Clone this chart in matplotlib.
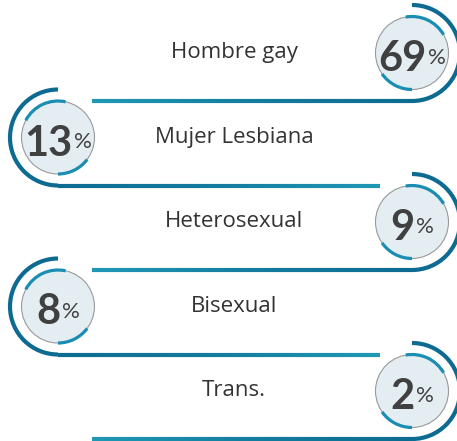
import numpy as np
import matplotlib.pyplot as plt
from matplotlib.patches import Arc, Circle
from matplotlib.collections import LineCollection
from matplotlib.colors import LinearSegmentedColormap

labels = ['Hombre gay', 'Mujer Lesbiana', 'Heterosexual', 'Bisexual', 'Trans.']
values = [69, 13, 9, 8, 2]
sides = ['right', 'left', 'right', 'left', 'right']

W, H = 457, 441
fig = plt.figure(figsize=(W / 100, H / 100), dpi=100)
ax = fig.add_axes([0, 0, 1, 1])
ax.set_xlim(0, W)
ax.set_ylim(H, 0)
ax.axis('off')

dark = '#0d6b91'
teal = '#1a8db3'
grad = LinearSegmentedColormap.from_list('g', ['#1f98b4', '#137c9f', dark])


def arc(cx, cy, r, a1, a2, **kw):
    # angles as seen on screen (y axis is inverted)
    ax.add_patch(Arc((cx, cy), 2 * r, 2 * r, theta1=-a2, theta2=-a1, **kw))


def gline(x0, x1, y, light_left):
    xs = np.linspace(x0, x1, 80)
    segs = [[(xs[i], y), (xs[i + 1], y)] for i in range(len(xs) - 1)]
    t = np.linspace(0, 1, len(segs))
    if not light_left:
        t = t[::-1]
    ax.add_collection(LineCollection(segs, colors=grad(t), linewidths=3.0,
                                     capstyle='butt'))


r_in, r_out = 36.5, 48
fig.canvas.draw()
rend = fig.canvas.get_renderer()

for i, (lab, val, side) in enumerate(zip(labels, values, sides)):
    cy = 53 + 84.5 * i
    cx = 412 if side == 'right' else 58
    ax.add_patch(Circle((cx, cy), r_in, facecolor='#e4edf2', edgecolor='#9a9a9a',
                        linewidth=0.8, zorder=2))
    if side == 'right':
        arc(cx, cy, r_out, -90, 90, color=dark, linewidth=3.0, zorder=3)
        arc(cx, cy, r_in, 30, 100, color=teal, linewidth=2.3, zorder=3)
        arc(cx, cy, r_in, 215, 270, color=teal, linewidth=2.3, zorder=3)
        gline(92, cx, cy + r_out, True)
    else:
        arc(cx, cy, r_out, 90, 270, color=dark, linewidth=3.0, zorder=3)
        arc(cx, cy, r_in, 78, 152, color=teal, linewidth=2.3, zorder=3)
        arc(cx, cy, r_in, 270, 323, color=teal, linewidth=2.3, zorder=3)
        gline(cx, 380, cy + r_out, False)

    ax.text(234, cy + 5, lab, ha='center', va='baseline', fontsize=16,
            family='Open Sans', color='#333333')

    num = ax.text(0, cy + 18, str(val), ha='left', va='baseline', fontsize=30,
                  family='Lato', fontweight='bold', color='#404040', zorder=4)
    pct = ax.text(0, cy + 11, '%', ha='left', va='baseline', fontsize=16,
                  family='Lato', color='#404040', zorder=4)
    wn = num.get_window_extent(rend).width
    wp = pct.get_window_extent(rend).width
    x0 = cx - (wn + wp + 1) / 2
    num.set_x(x0)
    pct.set_x(x0 + wn + 1)

fig.savefig('out.png', dpi=100)
